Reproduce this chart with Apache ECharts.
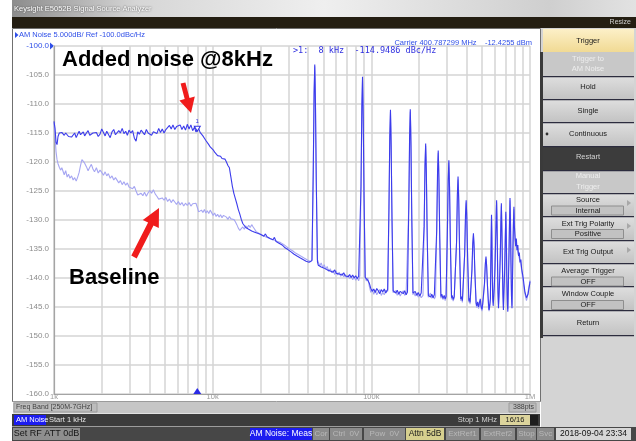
<!DOCTYPE html>
<html>
<head>
<meta charset="utf-8">
<script src="https://cdn.jsdelivr.net/npm/echarts@6/dist/echarts.min.js"></script>
<style>
html,body{margin:0;padding:0;background:#ffffff;}
#chart{width:636px;height:441px;}
</style>
</head>
<body>
<div id="chart"></div>
<script>
// AM noise sweep, 1 kHz .. 1 MHz, 5 dB/div, ref -100 dBc/Hz

const xTickLabels = {1000: '1k', 10000: '10k', 100000: '100k', 1000000: '1M'};
const minorFreqs = [2000, 3000, 4000, 5000, 6000, 7000, 8000, 9000,
                    20000, 30000, 40000, 50000, 60000, 70000, 80000, 90000,
                    200000, 300000, 400000, 500000, 600000, 700000, 800000, 900000];
const markerFreq = 8000;
const markerValue = -114.9486;
const carrierText = 'Carrier 400.787299 MHz    -12.4255 dBm';

// trace with the 8 kHz noise added
const addedNoise = [
[1000,-113.0],[1015,-114.2],[1030,-116.6],[1045,-117.0],[1060,-115.6],[1080,-115.0],[1100,-115.3],[1120,-114.9],
[1140,-115.2],[1160,-115.4],[1185,-115.0],[1210,-115.1],[1235,-115.6],[1260,-115.3],[1290,-115.7],[1320,-115.5],
[1350,-115.0],[1380,-115.8],[1410,-115.2],[1440,-114.7],[1470,-115.3],[1500,-115.1],[1530,-114.8],[1560,-115.5],
[1600,-115.0],[1640,-114.6],[1680,-115.4],[1720,-115.7],[1760,-115.0],[1800,-115.3],[1850,-114.9],[1900,-115.6],
[1950,-115.2],[2000,-114.3],[2050,-114.9],[2100,-115.5],[2150,-114.7],[2200,-115.2],[2260,-115.8],[2320,-114.8],
[2380,-114.4],[2440,-115.3],[2500,-115.6],[2560,-114.6],[2620,-115.0],[2690,-114.2],[2760,-115.1],[2830,-114.7],
[2900,-115.4],[2970,-114.5],[3050,-115.0],[3130,-114.6],[3210,-115.9],[3290,-116.4],[3370,-114.8],[3450,-115.2],
[3540,-114.5],[3630,-114.9],[3720,-115.3],[3820,-114.4],[3920,-115.0],[4020,-114.7],[4120,-115.4],[4230,-114.8],
[4340,-114.6],[4450,-115.1],[4570,-114.2],[4690,-114.9],[4810,-114.3],[4940,-115.0],[5070,-114.4],[5200,-114.6],
[5340,-113.7],[5480,-114.3],[5620,-113.6],[5770,-114.4],[5920,-113.9],[6080,-114.2],[6240,-113.6],[6400,-114.4],
[6570,-113.8],[6740,-114.5],[6920,-113.5],[7100,-114.3],[7290,-113.6],[7480,-114.6],[7680,-114.0],[7840,-114.8],
[8000,-114.9486],[8160,-114.2],[8330,-114.9],[8500,-114.6],[8680,-115.5],[8870,-115.9],[9060,-116.3],[9250,-116.1],
[9450,-117.0],[9650,-117.4],[9860,-117.3],[10070,-117.9],[10290,-118.3],[10510,-118.6],[10740,-118.9],[10970,-119.1],
[11210,-119.0],[11450,-119.4],[11700,-119.6],[11950,-119.5],[12210,-120.0],[12480,-120.6],[12750,-121.0],[13030,-122.6],
[13310,-124.2],[13600,-125.4],[13900,-126.3],[14200,-127.2],[14510,-128.2],[14830,-129.0],[15150,-129.9],[15480,-130.6],
[15820,-130.8],[16160,-131.3],[16510,-131.2],[16870,-131.6],[17240,-131.4],[17620,-131.9],[18000,-131.7],[18400,-132.1],
[18800,-131.8],[19200,-132.3],[19600,-132.0],[20100,-132.5],[20500,-132.2],[21000,-132.8],[21500,-132.4],[22000,-132.9],
[22500,-132.6],[23000,-133.2],[23500,-132.9],[24000,-133.4],[24500,-133.0],[25100,-133.7],[25600,-133.5],[26200,-134.0],
[26800,-133.7],[27400,-134.3],[28000,-134.1],[28600,-134.8],[29200,-134.5],[29800,-135.1],[30500,-134.9],[31200,-135.5],
[31900,-135.3],[32600,-135.9],[33300,-135.6],[34000,-136.2],[34800,-136.0],[35500,-136.5],[36300,-136.2],[37100,-136.8],
[37900,-136.5],[38800,-137.1],[39600,-136.8],[40500,-137.3],[41400,-137.0],
[42240,-137.0],[43030,-121.8],[43560,-108.3],[44000,-103.2],[44440,-110.0],[44970,-123.5],[45760,-137.2],
[46300,-137.8],[47300,-137.5],[48300,-138.1],[49400,-137.8],[50500,-138.3],[51600,-138.0],[52700,-138.6],[53900,-138.3],
[55100,-138.8],[56300,-138.5],[57500,-139.0],[58800,-138.6],[60100,-139.2],[61400,-138.9],[62700,-139.3],[64100,-139.0],
[65500,-139.5],[67000,-139.1],[68400,-139.6],[69900,-139.3],[71500,-139.8],[73000,-139.4],[74600,-139.9],[76300,-139.5],
[78000,-140.0],[79700,-139.6],[81400,-140.1],[83200,-139.7],
[84480,-139.8],[86060,-124.3],[87120,-110.5],[88000,-105.3],[88880,-112.2],[89940,-126.0],[91520,-139.9],
[93000,-139.8],[95000,-140.4],[97100,-140.9],[99200,-141.8],[101400,-142.3],[103600,-141.9],[105900,-142.5],[108200,-141.8],
[110600,-142.2],[113000,-142.7],[115500,-142.0],[118000,-142.4],[120600,-141.9],[123300,-142.6],
[126720,-142.0],[129100,-128.1],[130680,-115.7],[132000,-111.0],[133320,-117.2],[134900,-129.6],[137280,-142.2],
[139500,-142.0],[142500,-142.6],[145600,-142.1],[148800,-142.8],[152100,-142.3],[155400,-142.0],[158800,-142.7],[162300,-142.2],
[165800,-142.9],
[168960,-142.4],[172130,-128.2],[174240,-115.6],[176000,-110.9],[177760,-117.2],[179870,-129.8],[183040,-142.6],
[185000,-142.8],[189000,-142.3],[193200,-143.0],[197400,-142.5],[201800,-143.1],[206200,-142.6],
[211200,-142.8],[215160,-131.1],[217800,-120.7],[220000,-116.8],[222200,-122.0],[224840,-132.4],[228800,-143.0],
[232000,-142.7],[236000,-143.3],[240500,-142.8],[245000,-143.4],[249500,-142.9],
[253440,-143.0],[258190,-131.8],[261360,-121.8],[264000,-118.0],[266640,-123.0],[269810,-133.0],[274560,-143.2],
[278000,-142.8],[283000,-143.5],[288000,-143.0],[292000,-143.6],
[295680,-143.2],[301220,-132.6],[304920,-123.2],[308000,-119.7],[311080,-124.4],[314780,-133.8],[320320,-143.4],
[323000,-143.0],[328000,-143.7],[333000,-143.2],
[337920,-143.4],[344260,-134.0],[348480,-125.6],[352000,-122.5],[355520,-126.7],[359740,-135.0],[366080,-143.6],
[370000,-143.2],[375000,-143.9],
[380160,-143.7],[387290,-136.0],[392040,-129.2],[396000,-126.6],[399960,-130.0],[404710,-136.9],[411840,-143.9],
[416000,-143.5],[419000,-144.2],
[422400,-144.0],[430320,-138.7],[435600,-134.1],[440000,-132.3],[444400,-134.6],[449680,-139.3],[457600,-144.3],
[462000,-144.8],[468000,-144.1],[474000,-145.0],[480000,-144.2],[486000,-143.6],[492000,-144.9],[498000,-145.4],[503000,-144.5],
[506880,-144.8],[516380,-141.0],[522720,-137.6],[528000,-136.3],[533280,-138.0],[539620,-141.4],[549120,-145.0],
[552000,-145.5],[558000,-144.6],[563000,-143.5],
[566000,-138.0],[569000,-134.0],[572000,-129.1],[575000,-133.0],[578000,-139.0],[582000,-143.5],[586000,-144.8],[590000,-143.6],
[596000,-141.5],[602000,-138.0],[608000,-133.0],[612000,-130.0],[616000,-126.6],[620000,-131.0],[624000,-137.0],[628000,-142.5],
[633000,-145.2],[638000,-143.0],[644000,-140.0],[650000,-136.0],[655000,-131.0],[660000,-127.1],[665000,-132.0],[670000,-138.0],
[675000,-143.0],[680000,-145.5],[686000,-142.0],[692000,-139.0],[698000,-134.0],[704000,-128.6],[709000,-133.0],[714000,-140.0],
[720000,-144.5],[725000,-145.8],[731000,-141.0],[737000,-136.0],[742000,-131.5],[748000,-126.2],[753000,-130.0],[758000,-137.0],
[764000,-143.0],[770000,-145.2],[776000,-140.0],[781000,-135.0],[786000,-131.0],[792000,-127.7],[797000,-131.0],
[803000,-132.5],[812000,-134.5],[820000,-133.2],[829000,-135.2],[838000,-134.3],[847000,-136.2],[856000,-135.6],[866000,-137.3],
[876000,-136.8],[886000,-138.4],[896000,-139.2],[906000,-140.0],[917000,-141.2],[928000,-142.3],[939000,-142.9],[950000,-143.4],
[961000,-143.6],[972000,-142.8],[984000,-141.9],[996000,-141.0],[1000000,-140.6]
];

// reference trace without the added noise
const baseline = [
[1000,-113.3],[1015,-115.5],[1030,-118.2],[1045,-119.6],[1060,-120.3],[1080,-120.9],[1100,-121.4],[1120,-121.0],
[1140,-121.6],[1160,-122.2],[1185,-121.5],[1210,-122.6],[1235,-122.1],[1260,-122.8],[1290,-122.4],[1320,-123.1],
[1350,-122.7],[1380,-123.3],[1410,-122.6],[1440,-121.8],[1470,-120.6],[1500,-119.6],[1530,-119.3],[1560,-120.2],
[1600,-120.8],[1640,-121.5],[1680,-120.9],[1720,-120.4],[1760,-121.2],[1800,-121.7],[1850,-121.0],[1900,-121.9],
[1950,-121.4],[2000,-121.8],[2050,-122.3],[2100,-121.7],[2150,-122.4],[2200,-122.0],[2260,-122.8],[2320,-122.4],
[2380,-123.1],[2440,-122.7],[2500,-123.0],[2560,-123.6],[2620,-123.2],[2690,-123.9],[2760,-123.4],[2830,-124.0],
[2900,-123.6],[2970,-124.3],[3050,-124.0],[3130,-124.6],[3210,-124.2],[3290,-125.0],[3370,-125.7],[3450,-126.0],
[3540,-125.4],[3630,-125.8],[3720,-125.2],[3820,-125.9],[3920,-125.3],[4020,-124.9],[4120,-125.4],[4230,-124.8],
[4340,-125.5],[4450,-125.9],[4570,-126.4],[4690,-126.7],[4810,-126.2],[4940,-126.6],[5070,-126.1],[5200,-126.8],
[5340,-126.4],[5480,-127.0],[5620,-126.5],[5770,-126.9],[5920,-127.3],[6080,-126.8],[6240,-127.4],[6400,-127.0],
[6570,-127.6],[6740,-127.1],[6920,-127.5],[7100,-127.0],[7290,-127.6],[7480,-127.2],[7680,-127.4],[7840,-127.1],
[8000,-127.8],[8160,-128.6],[8330,-128.9],[8500,-128.3],[8680,-128.7],[8870,-128.2],[9060,-128.8],[9250,-128.4],
[9450,-128.9],[9650,-128.3],[9860,-128.6],[10070,-129.2],[10290,-128.8],[10510,-129.4],[10740,-129.0],[10970,-129.5],
[11210,-129.1],[11450,-129.6],[11700,-129.2],[11950,-129.0],[12210,-129.5],[12480,-129.9],[12750,-129.4],[13030,-129.8],
[13310,-129.5],[13600,-129.9],[13900,-130.3],[14200,-130.8],[14510,-131.4],[14830,-131.8],[15150,-131.5],[15480,-131.2],
[15820,-131.6],[16160,-131.0],[16510,-131.4],[16870,-130.9],[17240,-131.3],[17620,-130.8],[18000,-131.2],[18400,-131.6],
[18800,-132.0],[19200,-131.7],[19600,-132.3],[20100,-132.0],[20500,-132.6],[21000,-132.3],[21500,-132.9],[22000,-132.6],
[22500,-133.1],[23000,-132.8],[23500,-133.3],[24000,-133.0],[24500,-133.5],[25100,-133.2],[25600,-133.7],[26200,-133.4],
[26800,-133.9],[27400,-133.6],[28000,-134.2],[28600,-134.0],[29200,-134.6],[29800,-134.4],[30500,-135.0],[31200,-134.7],
[31900,-135.3],[32600,-135.1],[33300,-135.7],[34000,-135.4],[34800,-136.0],[35500,-135.7],[36300,-136.3],[37100,-136.0],
[37900,-136.6],[38800,-136.3],[39600,-136.9],[40500,-136.6],[41400,-137.2],
[42330,-136.8],[43120,-120.2],[43650,-107.5],[44000,-103.5],[44350,-106.8],[44880,-120.2],[45670,-136.8],
[46300,-137.0],[47300,-137.9],[48300,-137.4],[49400,-138.2],[50500,-137.7],[51600,-138.5],[52700,-138.0],[53900,-138.9],
[55100,-138.4],[56300,-139.1],[57500,-138.7],[58800,-139.4],[60100,-138.8],[61400,-139.5],[62700,-139.0],[64100,-139.7],
[65500,-139.2],[67000,-139.8],[68400,-139.4],[69900,-140.0],[71500,-139.5],[73000,-140.1],[74600,-139.7],[76300,-140.3],
[78000,-139.8],[79700,-140.4],[81400,-139.9],[83200,-140.5],
[84660,-139.6],[86240,-122.7],[87300,-109.9],[88000,-105.8],[88700,-109.2],[89760,-122.7],[91340,-139.8],
[93000,-140.5],[95000,-140.0],[97100,-141.4],[99200,-142.5],[101400,-141.9],[103600,-142.8],[105900,-142.1],[108200,-142.9],
[110600,-142.4],[113000,-142.0],[115500,-143.0],[118000,-142.5],[120600,-142.9],[123300,-142.1],
[126980,-142.3],[129360,-126.9],[130940,-115.1],[132000,-111.4],[133060,-114.5],[134640,-126.9],[137020,-142.5],
[139500,-142.8],[142500,-142.2],[145600,-143.0],[148800,-142.4],[152100,-143.1],[155400,-142.6],[158800,-142.2],[162300,-143.0],
[165800,-142.5],
[169310,-142.7],[172480,-127.0],[174590,-115.1],[176000,-111.3],[177410,-114.4],[179520,-127.0],[182690,-142.9],
[185000,-142.4],[189000,-143.1],[193200,-142.6],[197400,-143.3],[201800,-142.8],[206200,-143.4],
[211640,-143.0],[215600,-130.1],[218240,-120.3],[220000,-117.2],[221760,-119.8],[224400,-130.1],[228360,-143.3],
[232000,-143.0],[236000,-142.6],[240500,-143.5],[245000,-143.0],[249500,-143.6],
[253970,-143.2],[258720,-130.8],[261890,-121.4],[264000,-118.4],[266110,-120.9],[269280,-130.8],[274030,-143.5],
[278000,-143.1],[283000,-143.7],[288000,-143.2],[292000,-143.9],
[296300,-143.4],[301840,-131.8],[305540,-122.9],[308000,-120.1],[310460,-122.4],[314160,-131.8],[319700,-143.7],
[323000,-143.3],[328000,-144.0],[333000,-143.4],
[338620,-143.6],[344960,-133.3],[349180,-125.5],[352000,-123.0],[354820,-125.1],[359040,-133.3],[365380,-143.9],
[370000,-143.5],[375000,-144.2],
[380950,-143.9],[388080,-135.5],[392830,-129.0],[396000,-127.0],[399170,-128.7],[403920,-135.5],[411050,-144.2],
[416000,-143.8],[419000,-144.5],
[423280,-144.2],[431200,-138.5],[436480,-134.1],[440000,-132.7],[443520,-133.9],[448800,-138.5],[456720,-144.5],
[462000,-145.1],[468000,-144.5],[474000,-145.3],[480000,-144.6],[486000,-144.0],[492000,-145.2],[498000,-145.7],[503000,-144.8],
[507940,-145.0],[517440,-140.9],[523780,-137.7],[528000,-136.7],[532220,-137.7],[538560,-140.9],[548060,-145.3],
[552000,-145.7],[558000,-144.9],[563000,-143.8],
[566000,-137.0],[569000,-132.5],[572000,-129.5],[575000,-131.5],[578000,-137.5],[582000,-142.5],[586000,-144.2],[590000,-142.8],
[596000,-140.5],[602000,-137.0],[608000,-131.5],[612000,-128.5],[616000,-127.0],[620000,-129.5],[624000,-135.5],[628000,-141.5],
[633000,-144.6],[638000,-142.2],[644000,-139.0],[650000,-135.0],[655000,-130.0],[660000,-127.5],[665000,-130.5],[670000,-136.5],
[675000,-142.0],[680000,-145.0],[686000,-141.2],[692000,-138.0],[698000,-133.0],[704000,-129.0],[709000,-131.5],[714000,-138.5],
[720000,-143.5],[725000,-145.3],[731000,-140.2],[737000,-135.0],[742000,-130.0],[748000,-126.6],[753000,-128.5],[758000,-135.5],
[764000,-142.0],[770000,-144.8],[776000,-139.2],[781000,-134.0],[786000,-130.0],[792000,-128.1],[797000,-130.0],
[803000,-133.3],[812000,-133.8],[820000,-134.6],[829000,-134.5],[838000,-135.6],[847000,-135.5],[856000,-136.6],[866000,-136.9],
[876000,-137.8],[886000,-138.6],[896000,-139.8],[906000,-140.6],[917000,-141.8],[928000,-142.7],[939000,-143.3],[950000,-143.9],
[961000,-143.4],[972000,-142.4],[984000,-141.5],[996000,-140.8],[1000000,-140.4]
];

const UI = '"Liberation Sans", Arial, sans-serif';
const MONO = '"DejaVu Sans Mono", "Liberation Mono", monospace';
const BLUE = '#2f4fe8';

function rect(x, y, w, h, fill, stroke, z) {
  return {type: 'rect', z: z == null ? -5 : z, silent: true,
    shape: {x: x, y: y, width: w, height: h},
    style: {fill: fill, stroke: stroke || null, lineWidth: stroke ? 1 : 0}};
}
function txt(x, y, s, fill, size, align, opts) {
  const a = align || 'left';
  const o = opts || {};
  const font = (o.weight ? o.weight + ' ' : '') + size + 'px ' + (o.family || UI);
  const style = {text: s, fill: fill, font: font,
    align: a, textAlign: a, verticalAlign: 'middle', textVerticalAlign: 'middle'};
  if (o.shadow) { style.textShadowColor = o.shadow; style.textShadowBlur = 2; }
  return {type: 'text', z: o.z == null ? -3 : o.z, silent: true, x: x, y: y, style: style};
}
function poly(points, fill, z) {
  return {type: 'polygon', z: z == null ? -3 : z, silent: true, shape: {points: points}, style: {fill: fill}};
}
function vgrad(a, b) {
  return {type: 'linear', x: 0, y: 0, x2: 0, y2: 1, colorStops: [{offset: 0, color: a}, {offset: 1, color: b}]};
}

const g = [];
// window frame, title bar, menu strip
g.push(rect(0, 0, 636, 441, '#ffffff', null, -9));
g.push({type: 'rect', z: -8, silent: true, shape: {x: 12, y: 0, width: 624, height: 17},
  style: {fill: {type: 'linear', x: 0, y: 0, x2: 1, y2: 0, colorStops: [
    {offset: 0, color: '#8c8c8c'}, {offset: 0.2, color: '#d6d6d6'}, {offset: 0.5, color: '#efefef'},
    {offset: 0.86, color: '#cfcfcf'}, {offset: 1, color: '#e2e2e2'}]}}});
g.push(txt(14, 8.5, 'Keysight E5052B Signal Source Analyzer', '#ffffff', 7.5, 'left', {shadow: '#3a3a3a'}));
g.push(rect(12, 17, 624, 11, '#241e12', null, -8));
g.push(txt(631, 22.5, 'Resize', '#d0d0d0', 7, 'right'));

// measurement window
g.push(rect(12.5, 28.5, 528, 373, '#ffffff', '#707070', -8));
g.push(poly([[15, 32], [18.5, 35], [15, 38]], BLUE));
g.push(txt(19, 35, 'AM Noise 5.000dB/ Ref -100.0dBc/Hz', BLUE, 7.5));
g.push(poly([[50, 42.5], [54, 46], [50, 49.5]], BLUE));
g.push(txt(532, 42.5, carrierText, BLUE, 7.5, 'right', {z: 8}));
g.push(txt(293, 50.5, '>1:  ' + (markerFreq / 1000) + ' kHz  ' + markerValue.toFixed(4) + ' dBc/Hz',
  '#3030e0', 8.5, 'left', {family: MONO, z: 8}));

// softkey panel
g.push(rect(541, 28, 95, 399, '#d4d4d4', null, -8));
g.push(rect(540, 52, 3, 286, '#3a3a3a', null, -7));
const N = vgrad('#dedede', '#c3c3c3');
const DARK = '#1a1a1a', DIM = '#eeeeee';
const keys = [
  {y: 29, h: 23, fill: vgrad('#fcf0c8', '#f1da94'), lines: [['Trigger', 40.5, DARK]]},
  {y: 52, h: 24, fill: '#c8c8c8', lines: [['Trigger to', 58.5, DIM], ['AM Noise', 69, DIM]]},
  {y: 77, h: 22, fill: N, lines: [['Hold', 87, DARK]]},
  {y: 100, h: 22, fill: N, lines: [['Single', 110.5, DARK]]},
  {y: 123, h: 23, fill: N, lines: [['Continuous', 133.5, DARK]]},
  {y: 147, h: 23, fill: '#3c3c3c', lines: [['Restart', 157, '#d4d4d4']]},
  {y: 170, h: 23, fill: '#c8c8c8', lines: [['Manual', 176, DIM], ['Trigger', 187, DIM]]},
  {y: 194, h: 22, fill: N, lines: [['Source', 200, DARK]], sub: ['Internal', 210.5], arrow: true},
  {y: 217, h: 23, fill: N, lines: [['Ext Trig Polarity', 223.5, DARK]], sub: ['Positive', 234], arrow: true},
  {y: 241, h: 22, fill: N, lines: [['Ext Trig Output', 252, DARK]], arrow: true},
  {y: 264, h: 22, fill: N, lines: [['Average Trigger', 270.5, DARK]], sub: ['OFF', 281.5]},
  {y: 287, h: 23, fill: N, lines: [['Window Couple', 294, DARK]], sub: ['OFF', 305]},
  {y: 311, h: 24, fill: N, lines: [['Return', 323, DARK]]}
];
keys.forEach(function (k, i) {
  g.push(rect(543, k.y, 91, k.h, k.fill, null, -7));
  if (i > 0) g.push(rect(543, k.y + k.h, 91, 1.2, '#2c2c3e', null, -6));
  if (k.sub) {
    g.push(rect(551.5, k.sub[1] - 4.5, 72, 9, '#c2c2c2', '#8e8e8e', -6));
    g.push(txt(588, k.sub[1], k.sub[0], DARK, 7.5, 'center'));
  }
  if (k.arrow) {
    const cy = k.y + 9;
    g.push(poly([[627, cy - 3], [631, cy], [627, cy + 3]], '#a8a8a8'));
  }
  k.lines.forEach(function (l) { g.push(txt(588, l[1], l[0], l[2], 7.5, 'center')); });
});
g.push({type: 'circle', z: -3, silent: true, shape: {cx: 547, cy: 134, r: 1.4}, style: {fill: '#303030'}});

// sweep info bars
g.push(rect(13, 401.5, 527, 12, '#c6c6c6', null, -7));
g.push(rect(14, 403, 83, 9, '#bcbcbc', '#9c9c9c', -6));
g.push(txt(16, 407.5, 'Freq Band [250M-7GHz]', '#404040', 7));
g.push(rect(509, 403, 27, 9, '#bcbcbc', '#9c9c9c', -6));
g.push(txt(534, 407.5, '388pts', '#404040', 7, 'right'));
g.push(rect(12, 414, 528, 12.5, '#3c3c3c', null, -7));
g.push(rect(14, 415, 32, 10, '#1c1cf0', null, -6));
g.push(txt(16, 420, 'AM Noise', '#ffffff', 7.5));
g.push(txt(49, 420, 'Start 1 kHz', '#e4e4e4', 7.5));
g.push(txt(497, 420, 'Stop 1 MHz', '#d4d4d4', 7.5, 'right'));
g.push(rect(500, 415, 30, 10, '#dcd49c', null, -6));
g.push(txt(515, 420, '16/16', DARK, 7.5, 'center'));
g.push(rect(530, 415, 8, 10, '#1e1e1e', null, -6));

// status line
g.push(rect(12, 427, 624, 14, '#474747', null, -7));
const OFFF = '#8c8c8c', OFFT = '#b8b8b8';
[
  [13, 67, 'Set RF ATT 0dB', '#8e8e8e', '#161616', 9],
  [250, 62, 'AM Noise: Meas', '#1c1cf0', '#ffffff', 8.5],
  [313, 16, 'Cor', OFFF, OFFT, 8],
  [330, 32, 'Ctrl  0V', OFFF, OFFT, 8],
  [364, 41, 'Pow  0V', OFFF, OFFT, 8],
  [406, 38, 'Attn 5dB', '#d6cf8e', '#1a1a1a', 8.5],
  [446, 33, 'ExtRef1', OFFF, OFFT, 8],
  [481, 34, 'ExtRef2', OFFF, OFFT, 8],
  [517, 19, 'Stop', OFFF, OFFT, 8],
  [537, 17, 'Svc', OFFF, OFFT, 8],
  [556, 75, '2018-09-04 23:34', '#d6d6d6', '#111111', 8.5]
].forEach(function (b) {
  g.push(rect(b[0], 428, b[1], 12, b[3], null, -6));
  g.push(txt(b[0] + b[1] / 2, 434, b[2], b[4], b[5], 'center'));
});

// annotations
const RED = '#f01c1c';
g.push(txt(62, 59.5, 'Added noise @8kHz', '#000000', 22, 'left', {weight: 'bold', z: 10}));
g.push(txt(69, 278, 'Baseline', '#000000', 22, 'left', {weight: 'bold', z: 10}));
g.push(poly([[180.6, 83.6], [184.7, 99.1], [179.4, 100.6], [191, 113], [194.8, 96.4], [189.5, 97.9], [185.4, 82.4]], RED, 10));
g.push(poly([[136.7, 258.4], [153.5, 225.4], [158.8, 228.1], [159, 208], [142.8, 219.9], [148.1, 222.6], [131.3, 255.6]], RED, 10));

const gridColor = '#d4d4d4';
const option = {
  animation: false,
  backgroundColor: '#ffffff',
  textStyle: {fontFamily: UI},
  graphic: {elements: g},
  grid: {left: 54, top: 46, width: 476, height: 348, containLabel: false},
  xAxis: {
    type: 'log', logBase: 10, min: 1000, max: 1000000,
    axisLine: {show: true, lineStyle: {color: '#a4a4a4', width: 1.2}},
    axisTick: {show: false},
    axisLabel: {show: true, margin: -1, fontSize: 7.5, color: '#9a9a9a', fontFamily: UI,
      showMinLabel: true, showMaxLabel: true,
      formatter: function (v) { return xTickLabels[Math.round(v)] || ''; }},
    splitLine: {show: true, lineStyle: {color: gridColor, width: 1.5}}
  },
  yAxis: {
    type: 'value', min: -160, max: -100, interval: 5,
    axisLine: {show: true, lineStyle: {color: '#a4a4a4', width: 1.2}},
    axisTick: {show: false},
    axisLabel: {margin: 5, fontSize: 8, color: '#8c8c8c', fontFamily: UI,
      formatter: function (v) { return v === -100 ? '{r|' + v.toFixed(1) + '}' : v.toFixed(1); },
      rich: {r: {color: BLUE, fontSize: 8, fontFamily: UI}}},
    splitLine: {show: true, lineStyle: {color: gridColor, width: 1.5}}
  },
  series: [
    {
      name: 'divisions', type: 'line', data: [], z: 1, silent: true,
      markLine: {
        z: 1, silent: true, symbol: ['none', 'none'], animation: false,
        label: {show: false}, emphasis: {disabled: true},
        lineStyle: {color: gridColor, width: 1.5, type: 'solid'},
        data: minorFreqs.map(function (f) { return {xAxis: f}; })
      }
    },
    {
      name: 'Baseline', type: 'line', data: baseline, z: 3, silent: true,
      symbol: 'none', showSymbol: false,
      lineStyle: {color: '#a6a6f2', width: 1.1}
    },
    {
      name: 'Added noise', type: 'line', data: addedNoise, z: 4, silent: true,
      symbol: 'none', showSymbol: false,
      lineStyle: {color: '#3c3cec', width: 1.1},
      markPoint: {
        z: 6, silent: true, animation: false,
        data: [
          {coord: [markerFreq, markerValue], symbol: 'triangle', symbolSize: [6, 5], symbolRotate: 180,
           symbolOffset: [0, -4], itemStyle: {color: '#ffffff', borderColor: '#3434e4', borderWidth: 1},
           label: {show: true, position: 'top', formatter: '1', color: '#3434e4', fontSize: 6, distance: 1}},
          {coord: [markerFreq, -160], symbol: 'triangle', symbolSize: [8, 6], symbolOffset: [0, -3],
           itemStyle: {color: '#2a2ae6'}, label: {show: false}}
        ]
      }
    }
  ]
};

const chart = echarts.init(document.getElementById('chart'), null, {renderer: 'canvas'});
chart.setOption(option);
</script>
</body>
</html>
